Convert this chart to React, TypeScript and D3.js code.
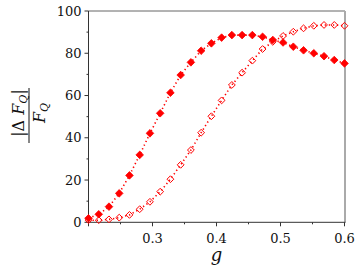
import React from "react";
import * as d3 from "d3";

const gValues = [0.2, 0.216, 0.232, 0.248, 0.264, 0.28, 0.296, 0.312, 0.328, 0.344, 0.36, 0.376, 0.392, 0.408, 0.424, 0.44, 0.456, 0.472, 0.488, 0.504, 0.52, 0.536, 0.552, 0.568, 0.584, 0.6];
const filledSeries = [1.9, 3.8, 7.4, 13.7, 22.2, 31.9, 42.1, 51.6, 61.3, 69.7, 75.7, 81.2, 84.7, 87.4, 88.6, 88.6, 88.6, 87.8, 86.3, 85.1, 83.1, 81.4, 80.0, 78.6, 76.8, 75.2];
const openSeries = [1.0, 1.0, 1.4, 2.2, 3.5, 6.2, 9.7, 14.5, 20.4, 27.2, 34.2, 42.4, 50.2, 57.7, 65.0, 70.8, 76.5, 82.0, 85.4, 88.2, 90.2, 91.8, 93.0, 93.4, 93.4, 93.0];
const xTickValues = [0.2, 0.3, 0.4, 0.5, 0.6];
const xTickLabels = ["", "0.3", "0.4", "0.5", "0.6"];
const xMinorTicks = [0.25, 0.35, 0.45, 0.55];
const yTickValues = [0, 20, 40, 60, 80, 100];
const yMinorTicks = [10, 30, 50, 70, 90];

const W = 357, H = 270;
const left = 88.5, right = 344.5, top = 11, bottom = 222.3;
const RED = "#ff0000";
const FONT = "'DejaVu Serif', serif";

function diamond(cx: number, cy: number, r: number) {
  return `M${cx},${cy - r}L${cx + r},${cy}L${cx},${cy + r}L${cx - r},${cy}Z`;
}

export default function App() {
  const x = d3.scaleLinear().domain([0.2, 0.6]).range([left, right]);
  const y = d3.scaleLinear().domain([0, 100]).range([bottom, top]);
  const line = d3.line<number>().x((_, i) => x(gValues[i])).y((d) => y(d));

  return (
    <div style={{ position: "absolute", left: 0, top: 0 }}>
      <svg width={W} height={H} style={{ display: "block", background: "#fff" }}>
        {/* frame */}
        <line x1={left} x2={right + 0.5} y1={top} y2={top} stroke="#666" strokeWidth={1} />
        <line x1={right + 0.5} x2={right + 0.5} y1={top} y2={bottom} stroke="#aaa" strokeWidth={2} />
        <line x1={left} x2={left} y1={top} y2={bottom} stroke="#333" strokeWidth={1} />
        <line x1={left} x2={right + 1} y1={bottom} y2={bottom} stroke="#333" strokeWidth={1} />

        {/* y ticks */}
        {yTickValues.map((v) => (
          <g key={"y" + v}>
            <line x1={left - 4} x2={left} y1={y(v)} y2={y(v)} stroke="#333" />
            <text x={left - 7} y={y(v)} dy="0.36em" textAnchor="end" fontFamily={FONT} fontSize={13} fill="#111">
              {v}
            </text>
          </g>
        ))}
        {yMinorTicks.map((v) => (
          <line key={"ym" + v} x1={left - 2} x2={left} y1={y(v)} y2={y(v)} stroke="#333" />
        ))}

        {/* x ticks */}
        {xTickValues.map((v, i) => (
          <g key={"x" + v}>
            <line x1={x(v)} x2={x(v)} y1={bottom} y2={bottom + 4} stroke="#333" />
            <text x={x(v)} y={242.7} textAnchor="middle" fontFamily={FONT} fontSize={13} fill="#111">
              {xTickLabels[i]}
            </text>
          </g>
        ))}
        {xMinorTicks.map((v) => (
          <line key={"xm" + v} x1={x(v)} x2={x(v)} y1={bottom} y2={bottom + 2} stroke="#333" />
        ))}

        {/* axis titles */}
        <text x={(left + right) / 2} y={261} textAnchor="middle" fontFamily={FONT} fontStyle="italic" fontSize={18} fill="#111">
          g
        </text>
        <g transform="translate(0,113) rotate(-90)" fontFamily={FONT} fill="#111">
          <text x={0} y={23.5} textAnchor="middle" fontSize={16}>
            <tspan>|Δ </tspan>
            <tspan fontStyle="italic">F</tspan>
            <tspan fontStyle="italic" fontSize={11} dy={3}>Q</tspan>
            <tspan dy={-3}>|</tspan>
          </text>
          <text x={0} y={45} textAnchor="middle" fontSize={16}>
            <tspan fontStyle="italic">F</tspan>
            <tspan fontStyle="italic" fontSize={11} dy={3}>Q</tspan>
          </text>
        </g>
        <line x1={29} x2={29} y1={88} y2={143} stroke="#111" strokeWidth={1} />

        {/* series lines */}
        <path d={line(filledSeries) || ""} fill="none" stroke={RED} strokeWidth={1.6} strokeDasharray="1.3 2.8" />
        <path d={line(openSeries) || ""} fill="none" stroke={RED} strokeWidth={1.6} strokeDasharray="1.3 2.8" />

        {/* markers */}
        {openSeries.map((v, i) => (
          <path key={"o" + i} d={diamond(x(gValues[i]), y(v), 3.4)} fill="none" stroke={RED} strokeWidth={1} />
        ))}
        {filledSeries.map((v, i) => (
          <path key={"f" + i} d={diamond(x(gValues[i]), y(v), 3.8)} fill={RED} stroke={RED} strokeWidth={0.8} strokeLinejoin="round" />
        ))}
      </svg>
    </div>
  );
}
